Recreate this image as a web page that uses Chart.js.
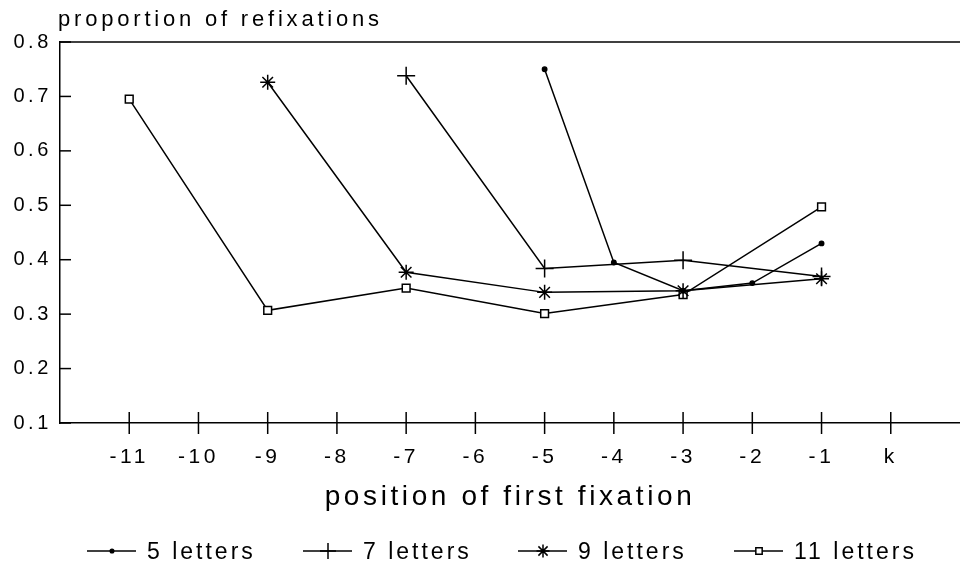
<!DOCTYPE html>
<html>
<head>
<meta charset="utf-8">
<script src="https://cdn.jsdelivr.net/npm/chart.js@4/dist/chart.umd.min.js"></script>
<style>
  body { margin: 0; background: #fff; }
  canvas { display: block; }
</style>
</head>
<body>
<canvas id="chart" width="960" height="573"></canvas>
<script>
// positions of first fixation (0 = 'k')
const xTicks = [-11, -10, -9, -8, -7, -6, -5, -4, -3, -2, -1, 0];
const xTickLabels = ['-11', '-10', '-9', '-8', '-7', '-6', '-5', '-4', '-3', '-2', '-1', 'k'];

const seriesNames = ['5 letters', '7 letters', '9 letters', '11 letters'];

const pos5 = [-5, -4, -3, -2, -1];
const val5 = [0.75, 0.395, 0.343, 0.357, 0.43];

const pos7 = [-7, -5, -3, -1];
const val7 = [0.738, 0.384, 0.399, 0.369];

const pos9 = [-9, -7, -5, -3, -1];
const val9 = [0.726, 0.377, 0.34, 0.343, 0.365];

const pos11 = [-11, -9, -7, -5, -3, -1];
const val11 = [0.695, 0.307, 0.348, 0.301, 0.336, 0.497];

const FONT = "'Liberation Sans', Arial, sans-serif";

function toPoints(xs, ys) {
  return xs.map((x, i) => ({ x: x, y: ys[i] }));
}

const markers = [
  { pointStyle: 'circle', radius: 2.2, bg: '#000', legendRadius: 1.8 },
  { pointStyle: 'cross', radius: 9, bg: '#000', legendRadius: 8 },
  { pointStyle: 'star', radius: 7.5, bg: '#000', legendRadius: 6.5 },
  { pointStyle: 'rect', radius: 5.5, bg: '#fff', legendRadius: 4.5 }
];

const datasets = [
  toPoints(pos5, val5),
  toPoints(pos7, val7),
  toPoints(pos9, val9),
  toPoints(pos11, val11)
].map((pts, i) => ({
  label: seriesNames[i],
  data: pts,
  borderColor: '#000',
  borderWidth: 1.5,
  backgroundColor: markers[i].bg,
  pointStyle: markers[i].pointStyle,
  pointRadius: markers[i].radius,
  pointHoverRadius: markers[i].radius,
  pointBorderWidth: 1.5,
  pointBorderColor: '#000',
  pointBackgroundColor: markers[i].bg,
  tension: 0,
  fill: false
}));

// the original print has wide letter spacing
const spacing = {
  id: 'spacing',
  beforeUpdate(chart) { chart.ctx.letterSpacing = '3.6px'; },
  beforeDraw(chart) { chart.ctx.letterSpacing = '3.6px'; }
};

const frame = {
  id: 'frame',
  afterDraw(chart) {
    const ctx = chart.ctx;
    const xs = chart.scales.x, ys = chart.scales.y;
    const area = chart.chartArea;
    ctx.save();
    ctx.strokeStyle = '#000';
    ctx.lineWidth = 1.5;
    // top line
    ctx.beginPath();
    ctx.moveTo(area.left, ys.getPixelForValue(0.8));
    ctx.lineTo(chart.width, ys.getPixelForValue(0.8));
    ctx.stroke();
    // y ticks (inward)
    ys.ticks.forEach(t => {
      const y = ys.getPixelForValue(t.value);
      ctx.beginPath();
      ctx.moveTo(area.left, y);
      ctx.lineTo(area.left + 11, y);
      ctx.stroke();
    });
    // x ticks (crossing)
    const yb = ys.getPixelForValue(0.1);
    xTicks.forEach(v => {
      const x = xs.getPixelForValue(v);
      ctx.beginPath();
      ctx.moveTo(x, yb - 11);
      ctx.lineTo(x, yb + 11);
      ctx.stroke();
    });
    // y title
    ctx.fillStyle = '#000';
    ctx.letterSpacing = '3.8px';
    ctx.font = '22px ' + FONT;
    ctx.textAlign = 'left';
    ctx.textBaseline = 'alphabetic';
    ctx.fillText('proportion of refixations', 58, 26);
    // legend
    ctx.letterSpacing = '3px';
    const legendX = [87, 303, 518, 734];
    const ly = 551;
    chart.data.datasets.forEach((ds, i) => {
      const x0 = legendX[i];
      ctx.lineWidth = 1.5;
      ctx.beginPath();
      ctx.moveTo(x0, ly);
      ctx.lineTo(x0 + 49, ly);
      ctx.stroke();
      ctx.fillStyle = markers[i].bg;
      Chart.helpers.drawPoint(ctx, {
        pointStyle: markers[i].pointStyle,
        radius: markers[i].legendRadius,
        rotation: 0,
        borderWidth: 1.5
      }, x0 + 25, ly);
      ctx.fillStyle = '#000';
      ctx.font = '23px ' + FONT;
      ctx.textAlign = 'left';
      ctx.textBaseline = 'middle';
      ctx.fillText(ds.label, x0 + 60, ly + 2);
    });
    ctx.restore();
  }
};

new Chart(document.getElementById('chart'), {
  type: 'line',
  data: { datasets: datasets },
  plugins: [spacing, frame],
  options: {
    responsive: false,
    animation: false,
    layout: { autoPadding: false, padding: { top: 42, right: 0, left: 0, bottom: 0 } },
    plugins: { legend: { display: false }, tooltip: { enabled: false } },
    scales: {
      x: {
        type: 'linear',
        min: -12,
        max: 1,
        afterBuildTicks: scale => { scale.ticks = xTicks.map(v => ({ value: v })); },
        afterFit: scale => { scale.height = 150; },
        grid: { display: false, drawTicks: false },
        border: { display: true, color: '#000', width: 1.5 },
        ticks: {
          color: '#000',
          font: { family: FONT, size: 21 },
          padding: 22,
          maxRotation: 0,
          autoSkip: false,
          callback: v => xTickLabels[xTicks.indexOf(v)]
        },
        title: {
          display: true,
          text: 'position of first fixation',
          color: '#000',
          font: { family: FONT, size: 28 },
          padding: { top: 0, bottom: 59 }
        }
      },
      y: {
        min: 0.1,
        max: 0.8,
        afterFit: scale => { scale.width = 60; },
        grid: { display: false, drawTicks: false },
        border: { display: true, color: '#000', width: 1.5 },
        ticks: {
          stepSize: 0.1,
          color: '#000',
          font: { family: FONT, size: 20 },
          padding: 8,
          callback: v => v.toFixed(1)
        }
      }
    }
  }
});
</script>
</body>
</html>
